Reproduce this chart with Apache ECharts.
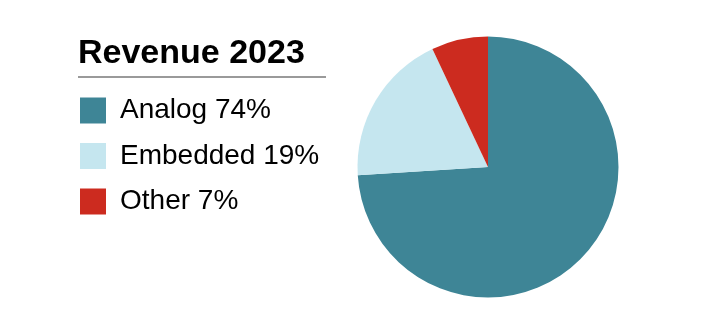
<!DOCTYPE html>
<html>
<head>
<meta charset="utf-8">
<script src="https://cdn.jsdelivr.net/npm/echarts@6/dist/echarts.min.js"></script>
<style>
html,body{margin:0;padding:0;background:#fff;}
#chart{width:708px;height:328px;}
</style>
</head>
<body>
<div id="chart"></div>
<script>
var titleText = 'Revenue 2023';
var categories = ['Analog', 'Embedded', 'Other'];
var shares = [74, 19, 7];
var colors = ['#3e8596', '#c5e6ef', '#cc2b1f'];

var font = '"Liberation Sans", Arial, Helvetica, sans-serif';
var data = categories.map(function (c, i) {
  return { name: c, value: shares[i], itemStyle: { color: colors[i] } };
});
var shareByName = {};
categories.forEach(function (c, i) { shareByName[c] = shares[i]; });

var chart = echarts.init(document.getElementById('chart'), null, { renderer: 'canvas' });
chart.setOption({
  animation: false,
  backgroundColor: '#fff',
  title: {
    text: titleText,
    left: 78,
    top: 37,
    padding: 0,
    textStyle: { fontFamily: font, fontSize: 34, fontWeight: 'bold', color: '#000', lineHeight: 34 }
  },
  graphic: [{
    type: 'line',
    shape: { x1: 78, y1: 77, x2: 326, y2: 77 },
    style: { stroke: '#9a9a9a', lineWidth: 2 },
    silent: true
  }],
  legend: {
    orient: 'vertical',
    left: 80,
    top: 96,
    padding: 0,
    itemWidth: 26,
    itemHeight: 26,
    itemGap: 16.5,
    icon: 'rect',
    selectedMode: false,
    data: categories,
    formatter: function (name) { return name + ' ' + shareByName[name] + '%'; },
    textStyle: { fontFamily: font, fontSize: 28, color: '#000', lineHeight: 26, padding: [3, 0, 0, 9] }
  },
  series: [{
    type: 'pie',
    center: [488, 167],
    radius: 130.5,
    startAngle: 90,
    clockwise: true,
    label: { show: false },
    labelLine: { show: false },
    emphasis: { disabled: true },
    itemStyle: { borderWidth: 0 },
    data: data
  }]
});
</script>
</body>
</html>
